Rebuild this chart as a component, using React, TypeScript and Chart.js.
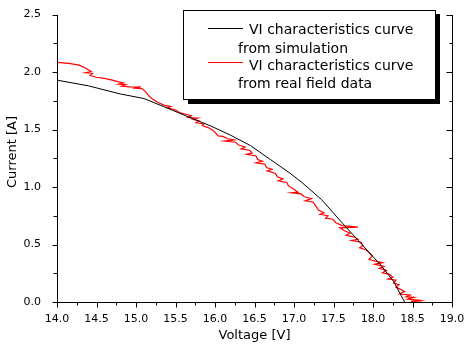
import { useEffect, useRef } from 'react';
import { Chart, registerables } from 'chart.js';

Chart.register(...registerables);

// Simulated VI curve
const simVoltage = [14.0, 14.4, 14.8, 15.1, 15.35, 15.7, 15.95, 16.2, 16.45, 16.7, 16.95, 17.1, 17.35, 17.62, 17.86, 18.1, 18.26, 18.4];
const simCurrent = [1.93, 1.88, 1.81, 1.77, 1.70, 1.60, 1.53, 1.45, 1.36, 1.24, 1.12, 1.04, 0.89, 0.68, 0.50, 0.32, 0.18, 0.0];

// Real field data VI curve
const fieldVoltage = [
  14.00, 14.15, 14.28, 14.36, 14.43, 14.36, 14.45, 14.42, 14.50, 14.60,
  14.70, 14.78, 14.84, 14.78, 14.87, 14.82, 14.92, 15.00, 15.06, 14.99,
  15.08, 15.12, 15.16, 15.20, 15.28, 15.36, 15.44, 15.40, 15.50, 15.56,
  15.62, 15.70, 15.66, 15.78, 15.72, 15.80, 15.76, 15.86, 15.84, 15.92,
  15.98, 16.04, 16.10, 16.16, 16.24, 16.12, 16.26, 16.30, 16.38, 16.33,
  16.44, 16.47, 16.40, 16.52, 16.54, 16.60, 16.52, 16.63, 16.65, 16.72,
  16.66, 16.76, 16.79, 16.86, 16.80, 16.91, 16.93, 17.00, 17.05, 16.97,
  17.09, 17.13, 17.22, 17.14, 17.24, 17.27, 17.31, 17.38, 17.33, 17.43,
  17.40, 17.49, 17.53, 17.61, 17.81, 17.58, 17.64, 17.71, 17.66, 17.77,
  17.81, 17.73, 17.85, 17.87, 17.83, 17.91, 17.95, 17.99, 17.95, 18.03,
  18.12, 18.02, 18.14, 18.08, 18.17, 18.12, 18.21, 18.25, 18.19, 18.29,
  18.26, 18.33, 18.29, 18.35, 18.40, 18.34, 18.47, 18.42, 18.52, 18.44,
  18.60, 18.48, 18.62,
];
const fieldCurrent = [
  2.085, 2.075, 2.06, 2.035, 2.005, 1.995, 1.99, 1.97, 1.955, 1.945,
  1.93, 1.915, 1.905, 1.895, 1.89, 1.878, 1.872, 1.87, 1.872, 1.86,
  1.855, 1.83, 1.795, 1.77, 1.735, 1.71, 1.70, 1.69, 1.67, 1.645,
  1.635, 1.62, 1.605, 1.60, 1.59, 1.575, 1.56, 1.55, 1.535, 1.515,
  1.49, 1.445, 1.44, 1.42, 1.41, 1.40, 1.39, 1.365, 1.348, 1.332,
  1.32, 1.295, 1.285, 1.27, 1.24, 1.225, 1.21, 1.20, 1.17, 1.155,
  1.14, 1.12, 1.09, 1.07, 1.055, 1.04, 1.01, 0.98, 0.955, 0.95,
  0.94, 0.915, 0.90, 0.88, 0.87, 0.84, 0.80, 0.775, 0.762, 0.75,
  0.73, 0.72, 0.69, 0.665, 0.652, 0.645, 0.62, 0.60, 0.58, 0.565,
  0.545, 0.535, 0.52, 0.49, 0.472, 0.455, 0.43, 0.40, 0.37, 0.355,
  0.342, 0.328, 0.31, 0.292, 0.275, 0.255, 0.24, 0.215, 0.20, 0.19,
  0.165, 0.15, 0.13, 0.11, 0.09, 0.07, 0.06, 0.045, 0.04, 0.025,
  0.015, 0.005, 0.0,
];

const simLegend = ['VI characteristics curve', 'from simulation'];
const fieldLegend = ['VI characteristics curve', 'from real field data'];
const xTitle = 'Voltage [V]';
const yTitle = 'Current [A]';

const FONT = "'DejaVu Sans', sans-serif";

const isMajor = (v: number) => Math.abs(v * 2 - Math.round(v * 2)) < 1e-6;

const decorPlugin = {
  id: 'decor',
  beforeDraw(chart: any) {
    const { ctx, width, height } = chart;
    ctx.save();
    ctx.fillStyle = '#fff';
    ctx.fillRect(0, 0, width, height);
    ctx.restore();
  },
  afterDraw(chart: any) {
    const { ctx, chartArea: ca } = chart;
    const xs = chart.scales.x;
    const ys = chart.scales.y;
    ctx.save();
    ctx.strokeStyle = '#000';
    ctx.lineWidth = 1;
    const L = Math.round(ca.left) + 0.5;
    const R = Math.round(ca.right) + 0.5;
    const T = Math.round(ca.top);
    const B = Math.round(ca.bottom) + 0.5;
    ctx.beginPath();
    // left axis
    ctx.moveTo(L, T);
    ctx.lineTo(L, B);
    // bottom axis
    ctx.moveTo(L, B);
    ctx.lineTo(R + 0.5, B);
    // right axis
    ctx.moveTo(R, T);
    ctx.lineTo(R, B);
    ys.ticks.forEach((t: any) => {
      const py = Math.round(ys.getPixelForValue(t.value)) + 0.5;
      const maj = isMajor(t.value);
      ctx.moveTo(L, py);
      ctx.lineTo(L - (maj ? 5 : 4), py);
      ctx.moveTo(R, py);
      ctx.lineTo(R - (maj ? 6 : 3), py);
    });
    xs.ticks.forEach((t: any) => {
      const px = Math.round(xs.getPixelForValue(t.value)) + 0.5;
      const maj = isMajor(t.value);
      ctx.moveTo(px, B);
      ctx.lineTo(px, B + (maj ? 5 : 3));
    });
    ctx.stroke();

    // axis titles
    ctx.fillStyle = '#000';
    ctx.font = `13px ${FONT}`;
    ctx.textAlign = 'center';
    ctx.textBaseline = 'middle';
    ctx.fillText(xTitle, (ca.left + ca.right) / 2, 336);
    ctx.save();
    ctx.translate(13, 152);
    ctx.rotate(-Math.PI / 2);
    ctx.fillText(yTitle, 0, 0);
    ctx.restore();

    // legend with drop shadow
    const bx = 183, by = 10, bw = 252, bh = 89;
    ctx.fillStyle = '#000';
    ctx.fillRect(bx + 5, by + 4, bw, bh + 1);
    ctx.fillStyle = '#fff';
    ctx.fillRect(bx, by, bw, bh);
    ctx.strokeStyle = '#000';
    ctx.strokeRect(bx + 0.5, by + 0.5, bw, bh);

    const entries = [
      { color: chart.data.datasets[0].borderColor, lines: simLegend, y: 28.5, b1: 33.5, b2: 52.5 },
      { color: chart.data.datasets[1].borderColor, lines: fieldLegend, y: 62.5, b1: 69.5, b2: 87.5 },
    ];
    ctx.font = `14px ${FONT}`;
    ctx.textAlign = 'left';
    ctx.textBaseline = 'alphabetic';
    entries.forEach((e) => {
      ctx.strokeStyle = e.color;
      ctx.beginPath();
      ctx.moveTo(208, e.y);
      ctx.lineTo(243, e.y);
      ctx.stroke();
      ctx.fillStyle = '#000';
      ctx.fillText(e.lines[0], 249, e.b1);
      ctx.fillText(e.lines[1], 238, e.b2);
    });
    ctx.restore();
  },
};

export default function App() {
  const ref = useRef<HTMLCanvasElement>(null);
  useEffect(() => {
    document.body.style.margin = '0';
    if (!ref.current) return;
    const chart = new Chart(ref.current, {
      type: 'scatter',
      data: {
        datasets: [
          {
            label: simLegend.join(' '),
            data: simVoltage.map((v, i) => ({ x: v, y: simCurrent[i] })),
            borderColor: '#000000',
            borderWidth: 1,
            showLine: true,
            pointRadius: 0,
            tension: 0,
          },
          {
            label: fieldLegend.join(' '),
            data: fieldVoltage.map((v, i) => ({ x: v, y: fieldCurrent[i] })),
            borderColor: '#ff0000',
            borderWidth: 1.2,
            showLine: true,
            pointRadius: 0,
            tension: 0,
          },
        ],
      },
      options: {
        animation: false,
        responsive: false,
        maintainAspectRatio: false,
        layout: { padding: { left: 0, right: 17, top: 14, bottom: 0 } },
        plugins: { legend: { display: false }, tooltip: { enabled: false } },
        scales: {
          x: {
            type: 'linear',
            min: 14,
            max: 19,
            grid: { display: false },
            border: { display: false },
            ticks: {
              stepSize: 0.25,
              autoSkip: false,
              maxRotation: 0,
              padding: 3,
              color: '#000',
              font: { family: FONT, size: 11 },
              callback: (v: any) => (isMajor(Number(v)) ? Number(v).toFixed(1) : ''),
            },
            afterFit: (s: any) => {
              s.height = 44;
            },
          },
          y: {
            type: 'linear',
            min: 0,
            max: 2.5,
            grid: { display: false },
            border: { display: false },
            ticks: {
              stepSize: 0.25,
              autoSkip: false,
              padding: 8,
              color: '#000',
              font: { family: FONT, size: 11 },
              callback: (v: any) => (isMajor(Number(v)) ? Number(v).toFixed(1) : ''),
            },
            afterFit: (s: any) => {
              s.width = 57;
            },
          },
        },
      },
      plugins: [decorPlugin],
    });
    return () => chart.destroy();
  }, []);
  return (
    <div style={{ position: 'fixed', left: 0, top: 0, width: 469, height: 346 }}>
      <canvas ref={ref} width={469} height={346} style={{ width: 469, height: 346 }} />
    </div>
  );
}
